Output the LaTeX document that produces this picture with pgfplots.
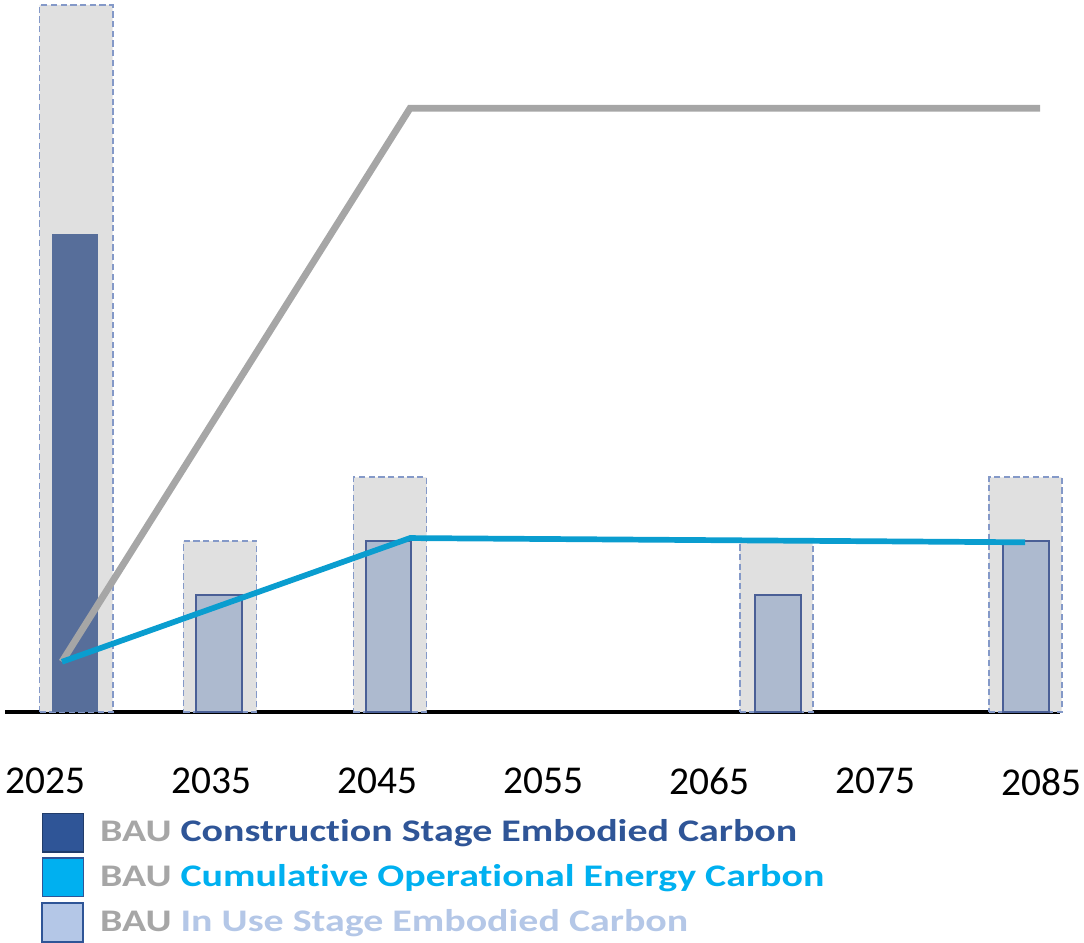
\documentclass[border=0pt]{standalone}
\usepackage{pgfplots}
\pgfplotsset{compat=1.18}
\usepackage{fontspec}
\setmainfont{Carlito}[Ligatures=NoCommon]
\newfontfamily\legfont{Carlito}[FakeStretch=1.27, Ligatures=NoCommon]
\definecolor{boxfill}{HTML}{E0E0E0}
\definecolor{boxdash}{HTML}{8499C8}
\definecolor{darkbar}{HTML}{576E9A}
\definecolor{lightbar}{HTML}{ADBACF}
\definecolor{lightedge}{HTML}{4A5F96}
\definecolor{grayline}{HTML}{A6A6A6}
\definecolor{blueline}{HTML}{0A9DCF}
\definecolor{legdark}{HTML}{2F5597}
\definecolor{legcyan}{HTML}{00B0F0}
\definecolor{leglight}{HTML}{B4C7E7}
\definecolor{baugray}{HTML}{A6A6A6}
\begin{document}
\begin{tikzpicture}
\begin{axis}[
  scale only axis,
  width=369.25pt, height=247.45pt,
  xmin=2022.59, xmax=2086.14, ymin=0, ymax=100,
  axis x line=bottom, axis y line=none,
  x axis line style={-, line width=1.4pt, black},
  xtick={2025,2035,2045,2055,2065,2075,2085},
  xticklabels={2025,2035,2045,2055,2065,2075,2085},
  major tick length=0pt,
  xticklabel style={font=\fontsize{13.8}{16}\selectfont, inner sep=0pt, yshift=-19.5pt},
  /pgf/number format/assume math mode=true,
  clip=false,
  legend style={at={(rel axis cs:0.034,-0.1414)}, anchor=north west, draw=none, fill=none,
    font=\legfont\fontsize{11}{13}\selectfont\bfseries, row sep=1.6pt, column sep=5.5pt, inner sep=0pt,
    nodes={inner sep=0pt}},
  legend cell align=left,
]
% grey background boxes
\addplot[ybar, bar width=4.4, bar shift=0, fill=boxfill, draw=boxdash, line width=0.65pt, dash pattern=on 2.2pt off 1.2pt, forget plot]
  coordinates {(2026.87,100) (2035.54,24.2) (2045.78,33.2) (2069.04,24.2) (2084.04,33.2)};
% construction stage bar
\addplot[ybar, bar width=2.77, bar shift=0, fill=darkbar, draw=none, forget plot]
  coordinates {(2026.81,67.6)};
% in use stage bars
\addplot[ybar, bar width=2.75, bar shift=0, fill=lightbar, draw=lightedge, line width=0.6pt, forget plot]
  coordinates {(2035.48,16.5) (2045.69,24.2) (2069.16,16.5) (2084.10,24.2)};
% lines
\addplot[grayline, line width=2.4pt, forget plot] coordinates {(2026.02,7.1) (2046.99,85.4) (2084.94,85.4)};
\addplot[blueline, line width=2.0pt, forget plot] coordinates {(2026.02,7.1) (2046.99,24.6) (2084.04,24.0)};
% legend
\addlegendimage{legend image code/.code={\draw[fill=legdark, draw=legdark!70!black, line width=0.4pt] (0pt,-6.8pt) rectangle (14.3pt,6.8pt);}}
\addlegendentry{\textcolor{baugray}{BAU} \textcolor{legdark}{Construction Stage Embodied Carbon}}
\addlegendimage{legend image code/.code={\draw[fill=legcyan, draw=legdark, line width=0.5pt] (0pt,-6.8pt) rectangle (14.3pt,6.8pt);}}
\addlegendentry{\textcolor{baugray}{BAU} \textcolor{legcyan}{Cumulative Operational Energy Carbon}}
\addlegendimage{legend image code/.code={\draw[fill=leglight, draw=legdark, line width=0.7pt] (0pt,-6.8pt) rectangle (14.3pt,6.8pt);}}
\addlegendentry{\textcolor{baugray}{BAU} \textcolor{leglight}{In Use Stage Embodied Carbon}}
\path[use as bounding box] (rel axis cs:-0.00474,-0.3267) rectangle (rel axis cs:1.02275,1.00707);
\end{axis}
\end{tikzpicture}
\end{document}
